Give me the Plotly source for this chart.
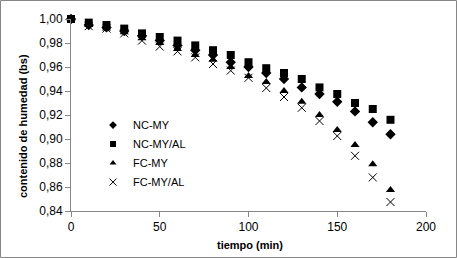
import plotly.graph_objects as go

tiempo = [0, 10, 20, 30, 40, 50, 60, 70, 80, 90, 100, 110, 120, 130, 140, 150, 160, 170, 180]
nc_my = [1.000, 0.995, 0.993, 0.990, 0.986, 0.982, 0.978, 0.974, 0.970, 0.964, 0.960, 0.955, 0.950, 0.943, 0.9375, 0.931, 0.923, 0.914, 0.904]
nc_my_al = [1.000, 0.997, 0.995, 0.992, 0.988, 0.985, 0.982, 0.978, 0.974, 0.970, 0.964, 0.959, 0.955, 0.950, 0.943, 0.9375, 0.930, 0.925, 0.916]
fc_my = [1.000, 0.995, 0.992, 0.989, 0.984, 0.980, 0.975, 0.970, 0.966, 0.960, 0.9525, 0.9475, 0.940, 0.931, 0.920, 0.9075, 0.895, 0.879, 0.8575]
fc_my_al = [1.000, 0.994, 0.992, 0.988, 0.982, 0.977, 0.973, 0.968, 0.9625, 0.957, 0.951, 0.9425, 0.935, 0.926, 0.915, 0.9025, 0.886, 0.868, 0.8475]

names = ["NC-MY", "NC-MY/AL", "FC-MY", "FC-MY/AL"]
series = [nc_my, nc_my_al, fc_my, fc_my_al]
symbols = ["diamond", "square", "triangle-up", "x-thin"]

fig = go.Figure()
for n, s, sym in zip(names, series, symbols):
    marker = dict(symbol=sym, size=8, color="black")
    if sym == "x-thin":
        marker["line"] = dict(color="black", width=1)
    fig.add_trace(go.Scatter(x=tiempo, y=s, mode="markers", name=n, marker=marker,
                             cliponaxis=False, showlegend=False))
# legend entries with smaller symbols, as in the reference
for n, sym in zip(names, symbols):
    marker = dict(symbol=sym, size=6, color="black")
    if sym == "x-thin":
        marker["line"] = dict(color="black", width=1)
        marker["size"] = 7
    fig.add_trace(go.Scatter(x=[None], y=[None], mode="markers", name=n, marker=marker))

font = "Liberation Sans"
fig.update_layout(
    width=457, height=258,
    margin=dict(l=71, r=31, t=19, b=47, autoexpand=False),
    paper_bgcolor="white", plot_bgcolor="white",
    separators=",.",
    font=dict(family=font, size=12, color="black"),
    showlegend=True,
    legend=dict(x=0.062, y=0.523, xanchor="left", yanchor="top",
                bgcolor="rgba(0,0,0,0)", font=dict(size=11, family=font),
                tracegroupgap=0, itemwidth=30),
    xaxis=dict(range=[0, 200], dtick=50, showgrid=False, zeroline=False, automargin=False,
               showline=True, linecolor="#868686", linewidth=1,
               ticks="outside", ticklen=5, tickcolor="#868686",
               tickfont=dict(size=12, family=font)),
    yaxis=dict(range=[0.84, 1.00], dtick=0.02, tickformat=".2f", showgrid=False, zeroline=False, automargin=False,
               showline=True, linecolor="#868686", linewidth=1,
               ticks="outside", ticklen=5, tickcolor="#868686",
               tickfont=dict(size=12, family=font)),
    annotations=[
        dict(text="<b>tiempo (min)</b>", xref="paper", yref="paper",
             x=(250 - 71) / 355, y=-(245 - 211) / 192, xanchor="center", yanchor="middle",
             showarrow=False, font=dict(size=11, family=font)),
        dict(text="<b>contenido de humedad (bs)</b>", xref="paper", yref="paper",
             x=-(71 - 23) / 355, y=(211 - 126) / 192, xanchor="center", yanchor="middle",
             textangle=-90, showarrow=False, font=dict(size=11, family=font)),
    ],
)
fig.add_shape(type="rect", xref="paper", yref="paper",
              x0=-70.5/355, x1=1 + 30.5/355, y0=-46.5/192, y1=1 + 18.5/192,
              line=dict(color="#868686", width=1), fillcolor="rgba(0,0,0,0)", layer="below")
fig.write_html("out.html", config={"displayModeBar": False},
               post_script="document.body.style.margin='0';document.body.style.overflow='hidden';")
